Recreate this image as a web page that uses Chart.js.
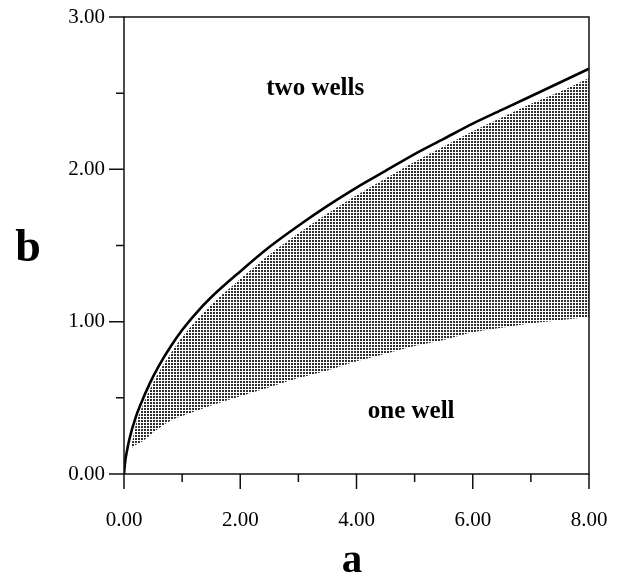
<!DOCTYPE html>
<html>
<head>
<meta charset="utf-8">
<script src="https://cdn.jsdelivr.net/npm/chart.js@4.4.0/dist/chart.umd.min.js"></script>
<style>
  body { margin: 0; background: #fff; }
  #wrap { width: 641px; height: 580px; }
</style>
</head>
<body>
<div id="wrap"><canvas id="wellChart" width="641" height="580"></canvas></div>
<script>
// boundary curve between one and two wells
const curveA = [0, 0.02, 0.05, 0.1, 0.2, 0.3, 0.45, 0.6, 0.8, 1, 1.25, 1.5, 2, 2.5, 3, 3.5, 4, 4.5, 5, 5.5, 6, 6.5, 7, 7.5, 8];
const curveB = [0, 0.08, 0.15, 0.24, 0.37, 0.47, 0.60, 0.71, 0.835, 0.945, 1.06, 1.16, 1.33, 1.49, 1.63, 1.76, 1.88, 1.99, 2.10, 2.20, 2.30, 2.39, 2.48, 2.57, 2.66];

// shaded band (upper and lower edges)
const shadeA = [0.13, 0.2, 0.3, 0.45, 0.6, 0.8, 1, 1.5, 2, 2.5, 3, 3.5, 4, 4.5, 5, 5.5, 6, 6.5, 7, 7.5, 8];
const shadeTop = [0.19, 0.32, 0.43, 0.56, 0.67, 0.79, 0.90, 1.11, 1.28, 1.44, 1.58, 1.71, 1.83, 1.94, 2.05, 2.15, 2.25, 2.34, 2.43, 2.51, 2.60];
const shadeBottom = [0.17, 0.19, 0.21, 0.255, 0.30, 0.35, 0.38, 0.45, 0.51, 0.57, 0.63, 0.68, 0.74, 0.79, 0.84, 0.88, 0.93, 0.96, 0.99, 1.01, 1.03];

const regionLabels = [
    { text: 'two wells', a: 3.29, b: 2.49 },
    { text: 'one well', a: 4.94, b: 0.37 }
];

function makeDots() {
    const c = document.createElement('canvas');
    c.width = 3; c.height = 3;
    const g = c.getContext('2d');
    g.fillStyle = '#2e2e2e';
    g.fillRect(0, 0, 2, 2);
    return g.createPattern(c, 'repeat');
}

function toPoints(xs, ys) {
    return xs.map((x, i) => ({ x: x, y: ys[i] }));
}

// frame, tick marks and free text
const decor = {
    id: 'decor',
    afterDraw(chart) {
        const ctx = chart.ctx;
        const area = chart.chartArea;
        const xs = chart.scales.x;
        const ys = chart.scales.y;
        ctx.save();
        ctx.strokeStyle = '#111';
        ctx.lineWidth = 1.5;
        ctx.strokeRect(area.left, area.top, area.right - area.left, area.bottom - area.top);

        ctx.beginPath();
        xs.ticks.forEach(t => {
            const px = xs.getPixelForValue(t.value);
            const len = t.value % 2 === 0 ? 15 : 8;
            ctx.moveTo(px, area.bottom);
            ctx.lineTo(px, area.bottom + len);
        });
        ys.ticks.forEach(t => {
            const py = ys.getPixelForValue(t.value);
            const len = t.value % 1 === 0 ? 15 : 8;
            ctx.moveTo(area.left, py);
            ctx.lineTo(area.left - len, py);
        });
        ctx.stroke();

        ctx.fillStyle = '#000';
        ctx.textAlign = 'center';
        ctx.textBaseline = 'alphabetic';
        ctx.font = 'bold 25px "Liberation Serif"';
        regionLabels.forEach(l => {
            ctx.fillText(l.text, xs.getPixelForValue(l.a), ys.getPixelForValue(l.b));
        });

        ctx.font = 'bold 46px "Liberation Serif"';
        ctx.fillText('b', 28, 261);
        ctx.font = 'bold 41px "Liberation Serif"';
        ctx.fillText('a', 352, 572);
        ctx.restore();
    }
};

const ctx = document.getElementById('wellChart').getContext('2d');
const wellChart = new Chart(ctx, {
    type: 'line',
    data: {
        datasets: [
            {
                label: 'boundary',
                data: toPoints(curveA, curveB),
                borderColor: '#000',
                borderWidth: 2.6,
                pointRadius: 0,
                cubicInterpolationMode: 'monotone',
                fill: false
            },
            {
                label: 'shade top',
                data: toPoints(shadeA, shadeTop),
                borderWidth: 0,
                borderColor: 'rgba(0,0,0,0)',
                pointRadius: 0,
                cubicInterpolationMode: 'monotone',
                backgroundColor: makeDots(),
                fill: '+1'
            },
            {
                label: 'shade bottom',
                data: toPoints(shadeA, shadeBottom),
                borderWidth: 0,
                borderColor: 'rgba(0,0,0,0)',
                pointRadius: 0,
                cubicInterpolationMode: 'monotone',
                fill: false
            }
        ]
    },
    options: {
        responsive: false,
        animation: false,
        layout: { padding: { top: 17, right: 52, left: 0, bottom: 0 } },
        plugins: {
            legend: { display: false },
            tooltip: { enabled: false }
        },
        scales: {
            x: {
                type: 'linear',
                min: 0,
                max: 8,
                border: { display: false },
                grid: { display: false, drawTicks: false },
                ticks: {
                    stepSize: 1,
                    padding: 34,
                    maxRotation: 0,
                    autoSkip: false,
                    color: '#000',
                    font: { family: '"Liberation Serif"', size: 21 },
                    callback: v => (v % 2 === 0 ? v.toFixed(2) : '')
                },
                afterFit: s => {
                    s.height = 106;
                    s.paddingLeft = 0;
                    s.paddingRight = 0;
                }
            },
            y: {
                type: 'linear',
                min: 0,
                max: 3,
                border: { display: false },
                grid: { display: false, drawTicks: false },
                ticks: {
                    stepSize: 0.5,
                    padding: 19,
                    autoSkip: false,
                    color: '#000',
                    font: { family: '"Liberation Serif"', size: 21 },
                    callback: v => (v % 1 === 0 ? v.toFixed(2) : '')
                },
                afterFit: s => {
                    s.width = 124;
                    s.paddingTop = 0;
                    s.paddingBottom = 0;
                }
            }
        }
    },
    plugins: [decor]
});
</script>
</body>
</html>
